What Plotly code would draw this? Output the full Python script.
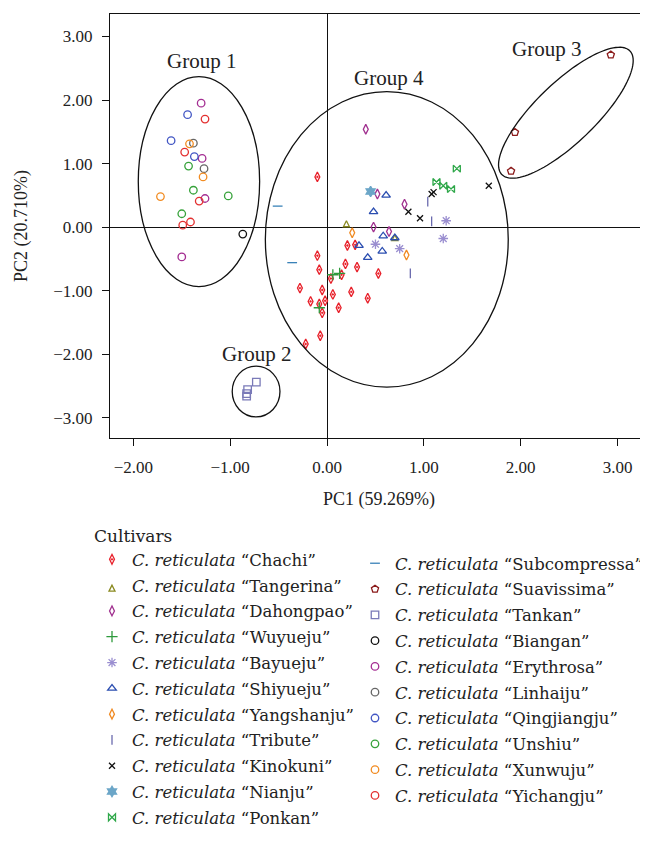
import numpy as np
import plotly.graph_objects as go

# ---------------- data ----------------
chachi_x = [-0.10, 0.21, 0.29, -0.10, 0.19, -0.08, 0.31, 0.53, 0.15, 0.04, -0.28, -0.05, 0.06, 0.25, 0.42, -0.17, -0.02, -0.08, -0.05, 0.12, -0.07, -0.22]
chachi_y = [0.79, -0.29, -0.28, -0.45, -0.58, -0.67, -0.63, -0.73, -0.75, -0.81, -0.96, -0.99, -1.06, -1.02, -1.12, -1.17, -1.16, -1.21, -1.35, -1.27, -1.71, -1.84]
tangerina_x = [0.20, 0.70]
tangerina_y = [0.10, -0.12]
dahongpao_x = [0.40, 0.52, 0.80, 0.48, 0.64]
dahongpao_y = [1.54, 0.52, 0.36, 0.00, -0.07]
wuyueju_x = [0.06, 0.13, -0.08]
wuyueju_y = [-0.75, -0.73, -1.27]
bayueju_x = [1.23, 1.20, 0.50, 0.75]
bayueju_y = [0.10, -0.18, -0.27, -0.34]
shiyueju_x = [0.61, 0.48, 0.58, 0.70, 0.33, 0.57, 0.42]
shiyueju_y = [0.50, 0.24, -0.14, -0.17, -0.29, -0.38, -0.48]
yangshanju_x = [0.26, 0.82]
yangshanju_y = [-0.09, -0.44]
tribute_x = [1.04, 1.08, 0.86]
tribute_y = [0.40, 0.09, -0.73]
kinokuni_x = [0.84, 0.96, 1.08, 1.10, 1.67]
kinokuni_y = [0.24, 0.14, 0.52, 0.55, 0.65]
nianju_x = [0.45]
nianju_y = [0.56]
ponkan_x = [1.34, 1.13, 1.20, 1.28]
ponkan_y = [0.92, 0.71, 0.65, 0.60]
subcompressa_x = [-0.51, -0.36]
subcompressa_y = [0.33, -0.56]
suavissima_x = [2.93, 1.94, 1.90]
suavissima_y = [2.71, 1.49, 0.88]
tankan_x = [-0.73, -0.82, -0.83, -0.83]
tankan_y = [-2.44, -2.56, -2.62, -2.66]
biangan_x = [-0.87]
biangan_y = [-0.11]
erythrosa_x = [-1.30, -1.29, -1.26, -1.50]
erythrosa_y = [1.95, 1.08, 0.45, -0.47]
linhaiju_x = [-1.38, -1.27]
linhaiju_y = [1.32, 0.92]
qingjiangju_x = [-1.44, -1.61, -1.37]
qingjiangju_y = [1.77, 1.36, 1.11]
unshiu_x = [-1.43, -1.38, -1.02, -1.50]
unshiu_y = [0.96, 0.58, 0.49, 0.21]
xunwuju_x = [-1.42, -1.28, -1.72]
xunwuju_y = [1.31, 0.79, 0.48]
yichangju_x = [-1.26, -1.47, -1.32, -1.41, -1.49]
yichangju_y = [1.70, 1.18, 0.41, 0.08, 0.03]

tick_vals = [-3, -2, -1, 0, 1, 2, 3]
x_title = "PC1 (59.269%)"
y_title = "PC2 (20.710%)"
group_labels = ["Group 1", "Group 2", "Group 3", "Group 4"]

# ---------------- styling ----------------
SERIF = "Liberation Serif"
LEG_FONT = "DejaVu Serif"
W, H = 648, 843
ML, MR, MT, MB = 102, 8, 6, 413
XR = [-2.241, 3.314]
YR = [-3.32, 3.354]

series = [
    ("Chachi", chachi_x, chachi_y, "diamond-tall-open-dot", "#e8202a", 7, "legend"),
    ("Tangerina", tangerina_x, tangerina_y, "arrow-up-open", "#8a8a20", 6, "legend"),
    ("Dahongpao", dahongpao_x, dahongpao_y, "diamond-tall-open", "#a0308f", 7, "legend"),
    ("Wuyueju", wuyueju_x, wuyueju_y, "cross-thin-open", "#2e9a3c", 8, "legend"),
    ("Bayueju", bayueju_x, bayueju_y, "asterisk-open", "#9a8ed0", 8, "legend"),
    ("Shiyueju", shiyueju_x, shiyueju_y, "triangle-up-open", "#2a4db0", 7.5, "legend"),
    ("Yangshanju", yangshanju_x, yangshanju_y, "diamond-tall-open", "#f08a22", 7, "legend"),
    ("Tribute", tribute_x, tribute_y, "line-ns-open", "#6a6aae", 7, "legend"),
    ("Kinokuni", kinokuni_x, kinokuni_y, "x-thin-open", "#111111", 6, "legend"),
    ("Nianju", nianju_x, nianju_y, "hexagram", "#6ca6c8", 8, "legend"),
    ("Ponkan", ponkan_x, ponkan_y, "bowtie-open", "#2fa84a", 7, "legend"),
    ("Subcompressa", subcompressa_x, subcompressa_y, "line-ew-open", "#3a82b8", 7, "legend2"),
    ("Suavissima", suavissima_x, suavissima_y, "pentagon-open", "#8b1a1a", 7.5, "legend2"),
    ("Tankan", tankan_x, tankan_y, "square-open", "#7a7ab8", 7.5, "legend2"),
    ("Biangan", biangan_x, biangan_y, "circle-open", "#111111", 7.5, "legend2"),
    ("Erythrosa", erythrosa_x, erythrosa_y, "circle-open", "#a42e92", 7.5, "legend2"),
    ("Linhaiju", linhaiju_x, linhaiju_y, "circle-open", "#666666", 7.5, "legend2"),
    ("Qingjiangju", qingjiangju_x, qingjiangju_y, "circle-open", "#4256c4", 7.5, "legend2"),
    ("Unshiu", unshiu_x, unshiu_y, "circle-open", "#36a23a", 7.5, "legend2"),
    ("Xunwuju", xunwuju_x, xunwuju_y, "circle-open", "#f28c22", 7.5, "legend2"),
    ("Yichangju", yichangju_x, yichangju_y, "circle-open", "#e33030", 7.5, "legend2"),
]

fig = go.Figure()
for name, xs, ys, sym, col, sz, lg in series:
    fig.add_trace(go.Scatter(
        x=xs, y=ys, mode="markers",
        name="<i>C. reticulata</i> \u201c" + name + "\u201d",
        legend=lg, legendgroup=name,
        marker=dict(symbol=sym, color=col, size=sz, line=dict(color=col, width=1.3)),
    ))

# ---------- group ellipses ----------
ell_line = dict(color="#111111", width=1.3)
axis_ellipses = [(-1.949, -0.696, -0.936, 2.367), (-0.979, -0.486, -2.989, -2.19), (-0.637, 1.871, -2.519, 2.132)]
for x0, x1, y0, y1 in axis_ellipses:
    fig.add_shape(type="circle", xref="x", yref="y", x0=x0, x1=x1, y0=y0, y1=y1, line=ell_line, layer="above")

# rotated ellipse for group 3 (defined in pixel space, converted to data units)
pw = W - ML - MR
ph = H - MT - MB
sx = pw / (XR[1] - XR[0])
sy = ph / (YR[1] - YR[0])
cx, cy = 2.466, 1.80
a_px, b_px, ang = 89.0, 30.0, np.deg2rad(44)
t = np.linspace(0, 2 * np.pi, 120)
ex = cx + (a_px * np.cos(t) * np.cos(ang) - b_px * np.sin(t) * np.sin(ang)) / sx
ey = cy + (a_px * np.cos(t) * np.sin(ang) + b_px * np.sin(t) * np.cos(ang)) / sy
path = "M " + " L ".join(f"{u:.4f},{v:.4f}" for u, v in zip(ex, ey)) + " Z"
fig.add_shape(type="path", xref="x", yref="y", path=path, line=ell_line, layer="above")

label_pos = [(-1.30, 2.62), (-0.73, -1.99), (2.27, 2.81), (0.64, 2.35)]
for txt, (lx, ly) in zip(group_labels, label_pos):
    fig.add_annotation(x=lx, y=ly, xref="x", yref="y", text=txt, showarrow=False,
                       font=dict(family=SERIF, size=21, color="#222222"))

axis_common = dict(
    showline=True, linecolor="#111111", linewidth=1.2, mirror=True,
    ticks="outside", ticklen=7, tickcolor="#111111", tickwidth=1.2,
    tickvals=tick_vals, tickformat=".2f",
    tickfont=dict(family=SERIF, size=17, color="#222222"),
    showgrid=False, zeroline=True, zerolinecolor="#111111", zerolinewidth=1.2,
    automargin=False,
)
fig.update_xaxes(range=XR, ticklabelstandoff=6,
                 title=dict(text=x_title, font=dict(family=SERIF, size=18, color="#222222"), standoff=16),
                 **axis_common)
fig.update_yaxes(range=YR, ticklabelstandoff=6,
                 title=dict(text=y_title, font=dict(family=SERIF, size=18, color="#222222"), standoff=20),
                 **axis_common)

leg_font = dict(family=LEG_FONT, size=16.5, color="#222222")
fig.update_layout(
    width=W, height=H,
    margin=dict(l=ML, r=MR, t=MT, b=MB, autoexpand=False),
    paper_bgcolor="white", plot_bgcolor="white",
    legend=dict(x=(84 - ML) / pw, y=(H - MB - 512) / ph,
                xanchor="left", yanchor="top", font=leg_font,
                title=dict(text="Cultivars", font=dict(family=LEG_FONT, size=17, color="#222222")),
                itemwidth=30, traceorder="grouped",
                bgcolor="rgba(0,0,0,0)", tracegroupgap=1.35),
    legend2=dict(x=(347 - ML) / pw, y=(H - MB - 538) / ph,
                 xanchor="left", yanchor="top", font=leg_font,
                 itemwidth=30, traceorder="grouped",
                 bgcolor="rgba(0,0,0,0)", tracegroupgap=1.35),
)

fig.write_html("out.html")
